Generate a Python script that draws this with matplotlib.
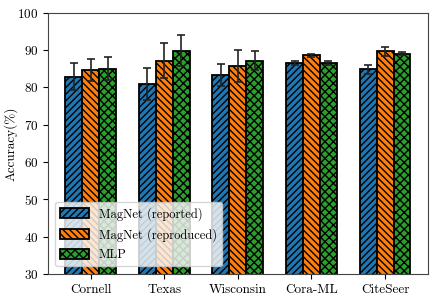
import matplotlib
matplotlib.use("Agg")
import matplotlib.pyplot as plt
import numpy as np

categories = ["Cornell", "Texas", "Wisconsin", "Cora-ML", "CiteSeer"]
series_names = ["MagNet (reported)", "MagNet (reproduced)", "MLP"]
magnet_reported = [82.9, 80.9, 83.4, 86.6, 84.9]
magnet_reported_err = [3.6, 4.3, 3.0, 0.6, 1.2]
magnet_reproduced = [84.7, 87.2, 85.8, 88.7, 89.7]
magnet_reproduced_err = [3.0, 4.6, 4.3, 0.4, 1.2]
mlp = [85.0, 89.9, 87.2, 86.6, 89.0]
mlp_err = [3.1, 4.1, 2.6, 0.6, 0.4]

plt.rcParams['font.family'] = ['cmr10', 'DejaVu Serif']
plt.rcParams['axes.formatter.use_mathtext'] = True
plt.rcParams['hatch.linewidth'] = 1.0

fig, ax = plt.subplots(figsize=(4.36, 3.0), dpi=100)
fig.subplots_adjust(left=0.11, right=0.981, top=0.957, bottom=0.087)

x = np.arange(len(categories))
w = 0.23
colors = ["#1f77b4", "#ff7f0e", "#2ca02c"]
hatches = ["/////", "\\\\\\\\\\", "xxxx"]
vals = [magnet_reported, magnet_reproduced, mlp]
errs = [magnet_reported_err, magnet_reproduced_err, mlp_err]
for i in range(3):
    ax.bar(x + (i - 1) * w, vals[i], w, yerr=errs[i], color=colors[i],
           edgecolor='black', linewidth=1.3, hatch=hatches[i],
           label=series_names[i], capsize=3,
           error_kw=dict(ecolor='#222222', elinewidth=1.2, capthick=1.2))

ax.set_ylim(30, 100)
ax.set_xticks(x)
ax.set_xticklabels(categories, fontsize=9.5)
ax.tick_params(axis='y', labelsize=9.5)
ax.set_ylabel("Accuracy(%)", fontsize=9.5)
ax.yaxis.set_label_coords(-0.079, 0.5)
for s in ax.spines.values():
    s.set_color('#444444')
ax.legend(loc='lower left', fontsize=9, handlelength=2.25, handleheight=0.8,
          labelspacing=0.6, borderaxespad=0.6)

fig.savefig("out.png", dpi=100)
